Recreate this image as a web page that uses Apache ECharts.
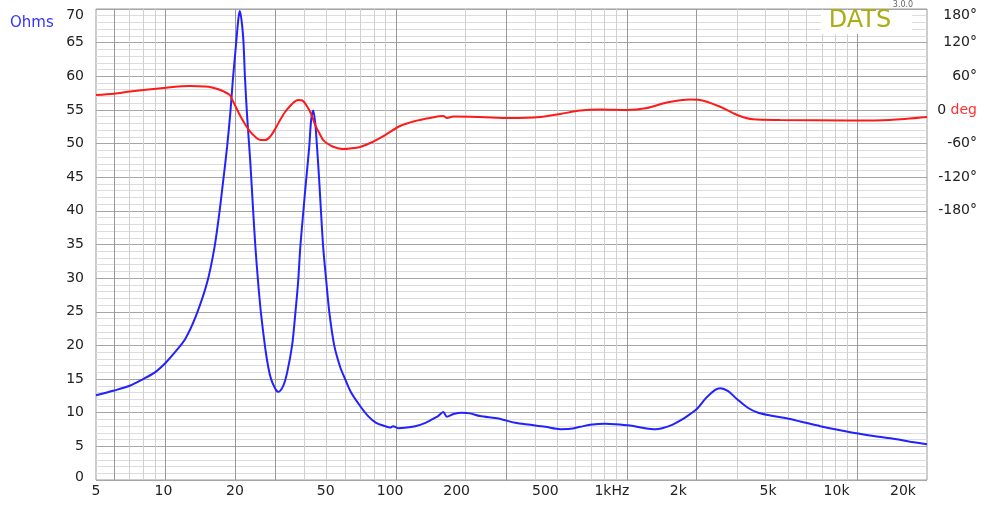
<!DOCTYPE html>
<html>
<head>
<meta charset="utf-8">
<script src="https://cdn.jsdelivr.net/npm/echarts@6/dist/echarts.min.js"></script>
<style>html,body{margin:0;padding:0;background:#fff}#c{width:989px;height:516px}</style>
</head>
<body>
<div id="c"></div>
<script>
// ---- data ----
const impFreq = [5,6,7,8,9,10,11,12.2,13.6,15.2,16.3,17.1,17.8,18.5,19.1,19.6,20.2,20.7,21.0,21.7,22.1,22.6,23.3,24.0,24.5,25.2,26.0,27.1,27.9,28.7,29.9,30.8,32.4,33.7,35.4,36.5,37.6,38.4,39.5,40.7,42.0,42.8,43.7,44.6,45.5,46.4,47.3,48.3,49.8,51.3,53.9,57.2,60.1,63.8,69.8,75.6,81.9,89.6,94.2,97,102,109,121,134,143,152,160,166,177,193,209,231,269,288,328,381,443,514,568,628,693,805,890,1033,1200,1327,1422,1572,1738,1880,2017,2206,2414,2537,2749,3008,3357,3710,4180,4856,5640,6890,8410,10070,11920,14550,16900,20000];
const impOhms = [12.6,13.3,14.0,15.0,16.0,17.4,19.0,21.0,24.5,29.5,34.5,39.5,44.5,49.5,54.5,59.5,64.5,68.5,69.7,66.0,60.0,54.0,47.5,40.0,35.0,29.5,24.5,19.5,16.8,15.0,13.6,13.1,14.0,16.0,20.0,24.5,29.5,34.5,39.5,44.5,49.5,53.5,54.9,53.0,49.0,44.5,39.5,34.5,29.5,25.0,20.0,16.8,15.0,13.0,11.0,9.5,8.5,8.0,7.8,8.0,7.7,7.75,8.0,8.5,9.0,9.5,10.1,9.4,9.8,10.0,9.9,9.5,9.2,9.0,8.5,8.2,7.9,7.55,7.6,7.9,8.2,8.35,8.3,8.1,7.7,7.55,7.7,8.2,9.0,9.8,10.6,12.2,13.4,13.65,13.2,12.0,10.7,10.0,9.6,9.2,8.7,8.0,7.4,6.9,6.5,6.1,5.7,5.3];
const phaseFreq = [5,6,7.03,10,12.8,14.9,15.9,17.3,19.0,19.5,20.2,21.0,22.1,23.3,24.5,25.8,27.1,28.4,29.9,31.4,33.0,34.7,36.1,37.6,39.2,41.2,42.8,44.6,46.4,48.3,50.7,53.3,58.9,63.2,69.8,77.2,89.6,104,121,140,160,166,177,231,312,421,514,628,767,1003,1222,1490,1880,2075,2537,3008,3529,4620,9230,13800,20000];
const phaseDeg = [26.6,29,32.8,39.6,42.6,41.7,40,35.5,26.6,17.7,5.2,-9.1,-25,-38.9,-48,-53.7,-53.7,-47.8,-34,-18,-3.7,7,14,17.6,16.8,5.7,-7.3,-27,-41,-53.7,-60.8,-65.6,-69.7,-68.8,-66,-59,-44.8,-28.7,-19.8,-14.4,-10.9,-14.4,-11.8,-12.7,-14.4,-12.7,-7.3,-1,0.7,-0.2,3.4,13.2,18.5,17.7,5.7,-9.1,-16.8,-18,-18.9,-18,-12.7];
const xLabelFreqs = [5,10,20,50,100,200,500,1000,2000,5000,10000,20000];
const xLabelTexts = ['5','10','20','50','100','200','500','1kHz','2k','5k','10k','20k'];
const xGridFreqs = [6,7,8,9,10,20,30,40,50,60,70,80,90,100,200,300,400,500,600,700,800,900,1000,2000,3000,4000,5000,6000,7000,8000,9000,10000];
const xGridMajor = [6,10,20,30,100,300,1000,2000,10000];
const degTicks = [-180,-120,-60,0,60,120,180];
const degLabels = ['-180°','-120°','-60°','0','60°','120°','180°'];

// ---- styling ----
const xLabelShift = [0,-2,0,-1,-6,-9,-12,-15,-18,-20,-21,-24];
const FONT = 'DejaVu Sans';
const lg = Math.log10;

const xRich = {};
xLabelShift.forEach((s, i) => { xRich['p' + i] = { padding: [0, -2 * s, 0, 0], fontFamily: FONT, fontSize: 14, color: '#222' }; });

const chart = echarts.init(document.getElementById('c'), null, { renderer: 'canvas' });
chart.setOption({
  animation: false,
  backgroundColor: '#fff',
  grid: { left: 96, right: 62, top: 9, bottom: 36, show: true, borderColor: '#9a9a9a', borderWidth: 1, outerBoundsMode: 'none' },
  xAxis: [
    {
      type: 'value', min: lg(5), max: lg(20000),
      axisLine: { show: false },
      axisTick: { show: false, customValues: xGridFreqs.map(lg) },
      splitLine: { show: true, lineStyle: { color: '#d0d0d0', width: 1 } },
      axisLabel: {
        customValues: xLabelFreqs.map(lg), margin: 4,
        fontFamily: FONT, fontSize: 14, color: '#222',
        formatter: v => {
          let best = 0, d = 1e9;
          xLabelFreqs.forEach((f, i) => { const dd = Math.abs(lg(f) - v); if (dd < d) { d = dd; best = i; } });
          return '{p' + best + '|' + xLabelTexts[best] + '}';
        },
        rich: xRich
      }
    },
    {
      type: 'value', min: lg(5), max: lg(20000), position: 'bottom',
      axisLine: { show: false }, axisLabel: { show: false },
      axisTick: { show: false, customValues: xGridMajor.map(lg) },
      splitLine: { show: true, lineStyle: { color: '#999', width: 1 } }
    }
  ],
  yAxis: [
    {
      type: 'value', min: 0, max: 70, interval: 5, position: 'left',
      axisLine: { show: false }, axisTick: { show: false },
      splitLine: { show: true, lineStyle: { color: '#a6a6a6', width: 1 } },
      minorTick: { show: false, splitNumber: 5 },
      minorSplitLine: { show: true, lineStyle: { color: '#dcdcdc', width: 1 } },
      axisLabel: {
        margin: 12, fontFamily: FONT, fontSize: 14, color: '#222',
        formatter: v => v === 70 ? '{t|70}' : (v === 0 ? '{b|0}' : String(v)),
        rich: {
          t: { padding: [12, 0, 0, 0], fontFamily: FONT, fontSize: 14, color: '#222' },
          b: { padding: [0, 0, 6, 0], fontFamily: FONT, fontSize: 14, color: '#222' }
        }
      }
    },
    {
      type: 'value', min: -660, max: 180, interval: 60, position: 'right',
      axisLine: { show: false }, axisTick: { show: false }, splitLine: { show: false },
      axisLabel: {
        margin: 50, align: 'right', fontFamily: FONT, fontSize: 14, color: '#222',
        formatter: v => {
          const i = degTicks.indexOf(v);
          if (i < 0) return '';
          if (v === 0) return '{z|0} {d|deg}';
          if (v === 180) return '{t|' + degLabels[i] + '}';
          return degLabels[i];
        },
        rich: {
          z: { fontFamily: FONT, fontSize: 14, color: '#222' },
          d: { fontFamily: FONT, fontSize: 14, color: '#ff3030' },
          t: { padding: [12, 0, 0, 0], fontFamily: FONT, fontSize: 14, color: '#222' }
        }
      }
    }
  ],
  graphic: [
    { type: 'rect', z: 50, shape: { x: 821, y: 10, width: 91, height: 24 }, style: { fill: '#fff' } },
    { type: 'text', z: 51, x: 860, y: 21, style: { text: 'DATS', fill: '#acac14', font: '24px "DejaVu Sans"', textAlign: 'center', textVerticalAlign: 'middle' } },
    { type: 'text', z: 51, x: 903, y: 5, style: { text: '3.0.0', fill: '#666', font: '8px "DejaVu Sans"', textAlign: 'center', textVerticalAlign: 'middle' } },
    { type: 'text', z: 51, x: 10, y: 23, style: { text: 'Ohms', fill: '#3333ff', font: '15px "DejaVu Sans"', textAlign: 'left', textVerticalAlign: 'middle' } }
  ],
  series: [
    {
      type: 'line', xAxisIndex: 0, yAxisIndex: 0, showSymbol: false, smooth: 0.3, z: 3,
      lineStyle: { color: '#2222ff', width: 2 },
      data: impFreq.map((f, i) => [lg(f), impOhms[i]])
    },
    {
      type: 'line', xAxisIndex: 0, yAxisIndex: 1, showSymbol: false, smooth: 0.3, z: 4,
      lineStyle: { color: '#ff1a1a', width: 2 },
      data: phaseFreq.map((f, i) => [lg(f), phaseDeg[i]])
    }
  ]
});
</script>
</body>
</html>
